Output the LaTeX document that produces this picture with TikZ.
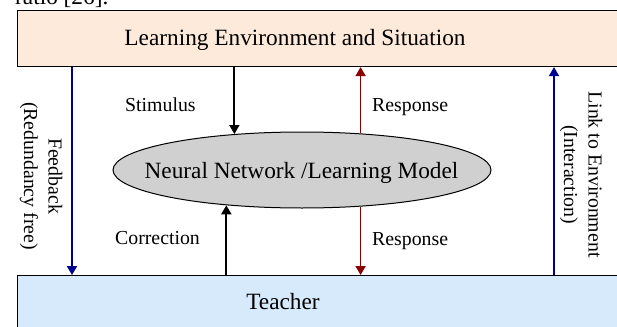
\documentclass[tikz,border=0pt]{standalone}
\usepackage{fontspec}
\setmainfont{Liberation Serif}
\usepackage{tikz}
\usetikzlibrary{arrows.meta,positioning,shapes.geometric}
\definecolor{envpeach}{HTML}{FDEADA}
\definecolor{teachblue}{HTML}{D6EAFC}
\definecolor{modelgray}{HTML}{D0D0D0}
\definecolor{linkblue}{HTML}{000090}
\definecolor{respred}{HTML}{8B0000}
\tikzset{
    block/.style ={rectangle, draw, line width=1.1pt, anchor=north west, minimum width=640pt},
    netmodel/.style ={ellipse, draw, fill=modelgray, line width=1pt, minimum width=378pt, minimum height=76pt},
    big/.style = {font=\fontsize{23.3}{28}\selectfont, inner sep=0pt},
    small/.style = {font=\fontsize{19.8}{24.5}\selectfont, inner sep=0pt},
    flow/.style = {line width=1.8pt, -{Triangle[width=10pt,length=9pt]}}
}
\begin{document}
\begin{tikzpicture}[x=1pt,y=-1pt]
        \useasboundingbox (0,0) rectangle (617,326);
        \clip (0,0) rectangle (617,326);
        \node[big,anchor=base west] (ratio) at (15,4.5) {ratio [26].};
        \node[block,fill=envpeach,minimum height=56pt] (env) at (17,10) {};
        \node[block,fill=teachblue,minimum height=70pt] (teacher) at (17,275) {};
        \node[netmodel] (model) at (302,170) {};
        \node[big,anchor=base] (envtext) at (295,46) {Learning Environment and Situation};
        \node[big,anchor=base] (teachtext) at (283,309) {Teacher};
        \node[big,anchor=base] (modeltext) at (301.5,178) {Neural Network /Learning Model};
        % Outer links between environment and teacher
        \coordinate (fbx) at (72,0);
        \coordinate (linkx) at (554,0);
        \draw[flow,linkblue] (env.south -| fbx) -- (teacher.north -| fbx);
        \draw[flow,linkblue] (teacher.north -| linkx) -- (env.south -| linkx);
        % Arrows to and from the model
        \draw[flow] (env.south -| model.152) -- (model.152);
        \draw[flow,respred] (model.32) -- (env.south -| model.32);
        \draw[flow] (teacher.north -| model.205) -- (model.205);
        \draw[flow,respred] (model.328) -- (teacher.north -| model.328);
        % Label the arrows
        \node[small,anchor=base west] (stimulus) at (125,111) {Stimulus};
        \node[small,anchor=base west] (respup) at (372,111) {Response};
        \node[small,anchor=base west] (correction) at (115,244) {Correction};
        \node[small,anchor=base west] (respdown) at (372,245) {Response};
        \node[small,rotate=-90,align=center] (fbtext) at (41,176) {Feedback\\(Redundancy free)};
        \node[small,rotate=-90,align=center] (linktext) at (581,174.5) {Link to Environment\\(Interaction)};
\end{tikzpicture}
\end{document}
